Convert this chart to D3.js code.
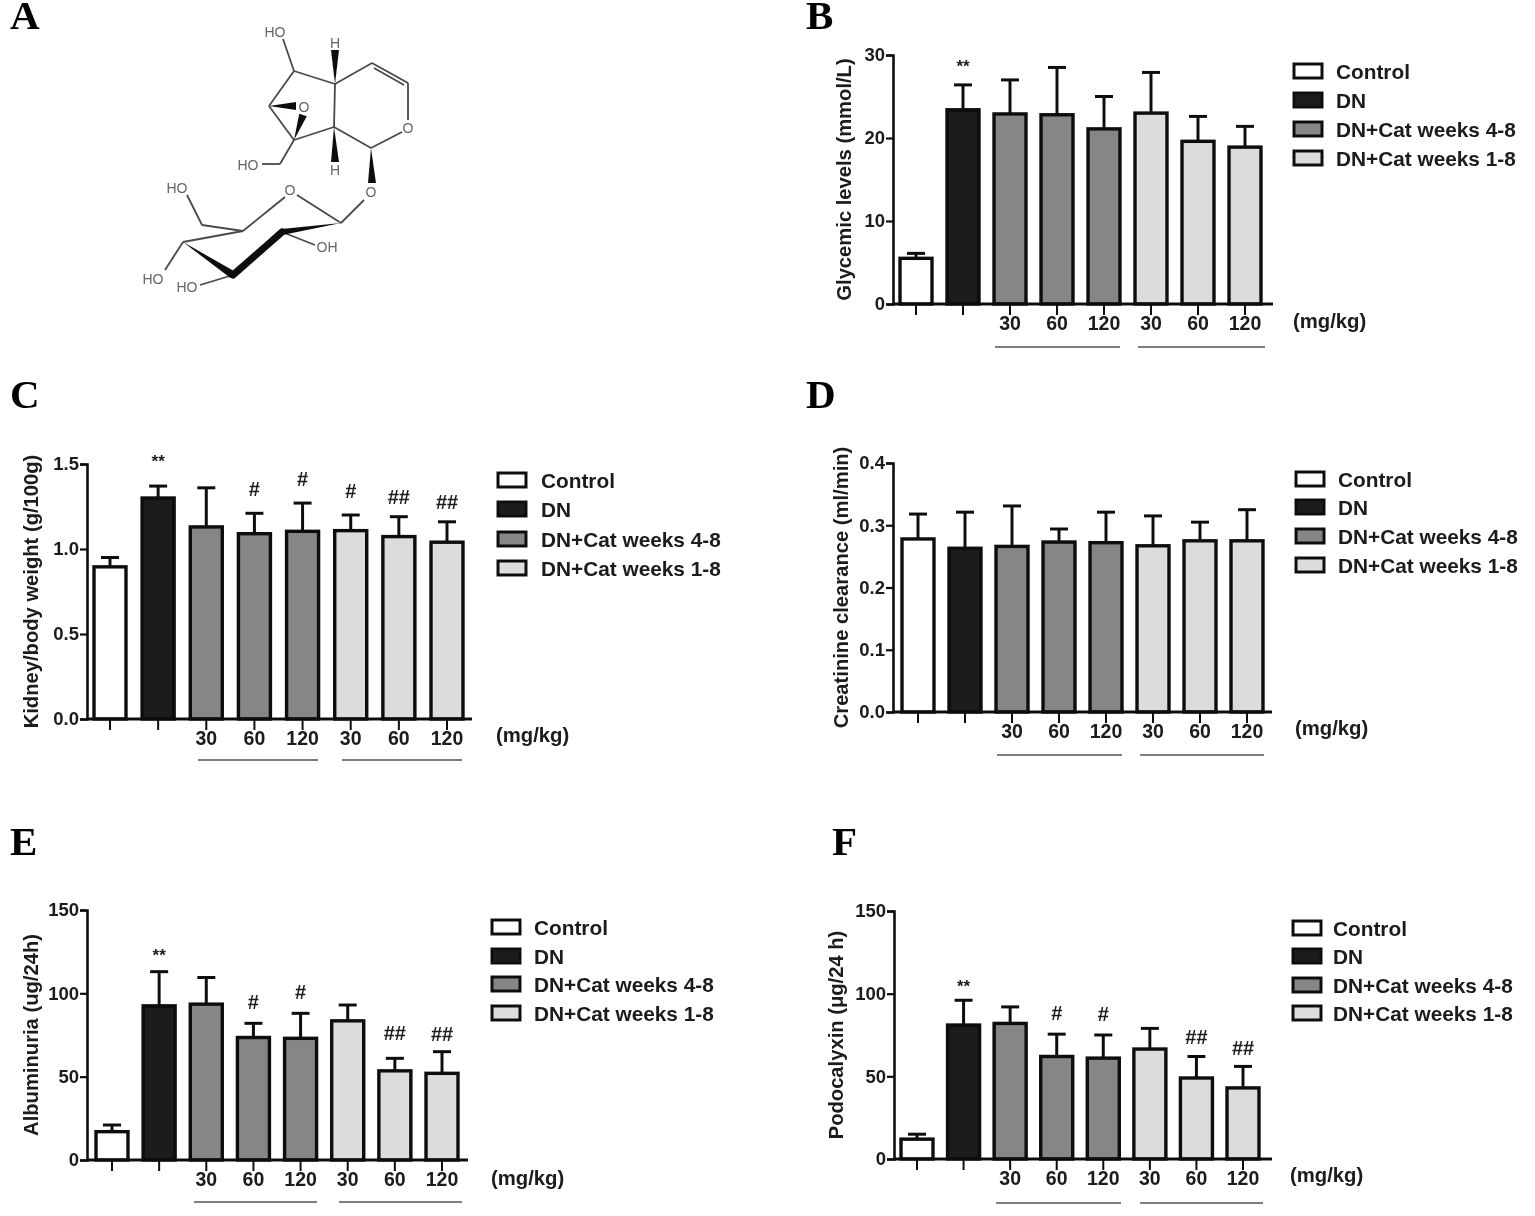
<!DOCTYPE html>
<html>
<head>
<meta charset="utf-8">
<script src="https://cdn.jsdelivr.net/npm/d3@7"></script>
<style>
html, body { margin: 0; padding: 0; background: #fff; }
svg { display: block; }
text { font-family: "Liberation Sans", Arial, sans-serif; fill: #1a1a1a; }
.lab { font-weight: bold; }
</style>
</head>
<body>
<script>
var width = 1535;
var height = 1216;

// bar groups, same order in every panel
var groups = ["Control", "DN", "DN+Cat weeks 4-8", "DN+Cat weeks 1-8"];
var groupFill = ["#ffffff", "#1a1a1a", "#858685", "#dcdcdc"];
var barGroup = [0, 1, 2, 2, 2, 3, 3, 3];
var doses = ["", "", "30", "60", "120", "30", "60", "120"];

// values: mean and top of error bar
var glycemic = [5.5, 23.4, 22.9, 22.8, 21.1, 23, 19.6, 18.9];
var glycemicTop = [6.1, 26.4, 27, 28.5, 25, 27.9, 22.6, 21.4];
var glycemicMarks = ["", "**", "", "", "", "", "", ""];

var kidney = [0.895, 1.3, 1.13, 1.09, 1.104, 1.108, 1.073, 1.04];
var kidneyTop = [0.95, 1.37, 1.36, 1.21, 1.27, 1.2, 1.19, 1.16];
var kidneyMarks = ["", "**", "", "#", "#", "#", "##", "##"];

var creatinine = [0.278, 0.263, 0.266, 0.273, 0.272, 0.267, 0.275, 0.275];
var creatinineTop = [0.318, 0.321, 0.331, 0.294, 0.321, 0.315, 0.305, 0.325];
var creatinineMarks = ["", "", "", "", "", "", "", ""];

var albumin = [17, 92.5, 93.5, 73.5, 73, 83.5, 53.5, 52];
var albuminTop = [21, 113, 109.5, 82, 88, 93, 61, 65];
var albuminMarks = ["", "**", "", "#", "#", "", "##", "##"];

var podocalyxin = [12, 81, 82, 62, 61, 66.5, 49, 43];
var podocalyxinTop = [15, 96, 92, 75.5, 75, 79, 62, 56];
var podocalyxinMarks = ["", "**", "", "#", "#", "", "##", "##"];

var panels = [
	{ letter: "B", lx: 806, ly: 29, title: "Glycemic levels (mmol/L)", values: glycemic, tops: glycemicTop, marks: glycemicMarks,
	  ticks: [0, 10, 20, 30], max: 30, fmt: d3.format("d"), gaps: [0, 13, 0, 0, 0, 0, 0, 0],
	  ax: 893, y0: 304, y1: 55, c0: 916, c7: 1245, axEnd: 1273, titleX: 844, labY: 323, lineY: 347,
	  l1: [995, 1120], l2: [1138, 1265], unitX: 1293, unitY: 321, legX: 1293, legText: 1336, legY: [71, 100, 129, 158] },
	{ letter: "C", lx: 10, ly: 408, title: "Kidney/body weight (g/100g)", values: kidney, tops: kidneyTop, marks: kidneyMarks,
	  ticks: [0, 0.5, 1, 1.5], max: 1.5, fmt: d3.format(".1f"), gaps: [0, 19, 0, 17, 17, 17, 13, 13],
	  ax: 87, y0: 719, y1: 464, c0: 110, c7: 447, axEnd: 472, titleX: 31, labY: 738, lineY: 760,
	  l1: [198, 318], l2: [342, 462], unitX: 496, unitY: 735, legX: 497, legText: 541, legY: [480, 509, 539, 568] },
	{ letter: "D", lx: 806, ly: 408, title: "Creatinine clearance (ml/min)", values: creatinine, tops: creatinineTop, marks: creatinineMarks,
	  ticks: [0, 0.1, 0.2, 0.3, 0.4], max: 0.4, fmt: d3.format(".1f"), gaps: [0, 0, 0, 0, 0, 0, 0, 0],
	  ax: 893, y0: 712, y1: 463, c0: 918, c7: 1247, axEnd: 1272, titleX: 841, labY: 731, lineY: 755,
	  l1: [997, 1122], l2: [1140, 1264], unitX: 1295, unitY: 728, legX: 1295, legText: 1338, legY: [479, 507, 536, 565] },
	{ letter: "E", lx: 10, ly: 855, title: "Albuminuria (ug/24h)", values: albumin, tops: albuminTop, marks: albuminMarks,
	  ticks: [0, 50, 100, 150], max: 150, fmt: d3.format("d"), gaps: [0, 11, 0, 14, 14, 0, 18, 11],
	  ax: 87, y0: 1160, y1: 910, c0: 112, c7: 442, axEnd: 468, titleX: 31, labY: 1179, lineY: 1202,
	  l1: [194, 317], l2: [339, 462], unitX: 491, unitY: 1178, legX: 491, legText: 534, legY: [927, 956, 984, 1013] },
	{ letter: "F", lx: 832, ly: 855, title: "Podocalyxin (\u03bcg/24 h)", values: podocalyxin, tops: podocalyxinTop, marks: podocalyxinMarks,
	  ticks: [0, 50, 100, 150], max: 150, fmt: d3.format("d"), gaps: [0, 8, 0, 14, 14, 0, 12, 11],
	  ax: 894, y0: 1159, y1: 911, c0: 917, c7: 1243, axEnd: 1272, titleX: 836, labY: 1178, lineY: 1203,
	  l1: [996, 1121], l2: [1140, 1263], unitX: 1290, unitY: 1175, legX: 1292, legText: 1333, legY: [928, 956, 985, 1013] }
];

// molecule in panel A, [x1, y1, x2, y2]
var bonds = [
	[283, 39, 294, 71], [294, 71, 335, 84], [294, 71, 269, 106], [269, 106, 294, 140], [294, 140, 334, 127],
	[335, 84, 334, 127], [335, 84, 372, 63], [372, 63, 408, 83], [374, 68, 404, 85], [408, 83, 408, 120],
	[402, 132, 371, 148], [371, 148, 334, 127], [294, 140, 280, 164], [280, 164, 262, 164],
	[364, 200, 341, 223], [341, 223, 297, 195], [285, 197, 243, 231], [243, 231, 202, 225], [202, 225, 187, 195],
	[243, 231, 183, 242], [183, 242, 165, 270], [233, 275, 200, 285], [282, 232, 315, 245]
];
// filled wedges, narrow end then wide end and half width
var wedges = [
	[335, 84, 335, 50, 4], [334, 127, 335, 162, 4], [269, 106, 296, 106, 4], [294, 140, 303, 115, 4],
	[371, 148, 372, 183, 4], [183, 242, 233, 275, 4], [341, 223, 282, 232, 3]
];
var atoms = [
	["HO", 275, 32], ["H", 335, 43], ["O", 304, 107], ["O", 408, 128], ["H", 335, 170], ["HO", 248, 165],
	["O", 371, 192], ["O", 290, 190], ["HO", 177, 188], ["OH", 327, 247], ["HO", 153, 279], ["HO", 187, 287]
];

var svg = d3.select("body").append("svg")
	.attr("width", width)
	.attr("height", height);

var defs = svg.append("defs");
defs.append("filter").attr("id", "soft")
	.append("feGaussianBlur").attr("stdDeviation", 0.55);

var root = svg.append("g").attr("filter", "url(#soft)");

function letter(g, s, x, y) {
	g.append("text")
		.attr("x", x).attr("y", y)
		.style("font-family", "'Liberation Serif', serif")
		.style("font-weight", "bold")
		.style("font-size", "41px")
		.style("fill", "#000")
		.text(s);
}

function drawMolecule(g) {
	letter(g, "A", 10, 29);
	g.selectAll(".bond").data(bonds).enter().append("line")
		.attr("class", "bond")
		.attr("x1", function(d) { return d[0]; })
		.attr("y1", function(d) { return d[1]; })
		.attr("x2", function(d) { return d[2]; })
		.attr("y2", function(d) { return d[3]; })
		.attr("stroke", "#4a4a4a")
		.attr("stroke-width", 1.8);
	g.selectAll(".wedge").data(wedges).enter().append("path")
		.attr("class", "wedge")
		.attr("fill", "#111")
		.attr("d", function(d) {
			var dx = d[2] - d[0], dy = d[3] - d[1], n = Math.sqrt(dx * dx + dy * dy);
			var px = -dy / n * d[4], py = dx / n * d[4];
			return "M" + d[0] + "," + d[1] + "L" + (d[2] + px) + "," + (d[3] + py) + "L" + (d[2] - px) + "," + (d[3] - py) + "Z";
		});
	// thick front edge of the sugar ring
	g.append("path")
		.attr("d", d3.line()([[233, 275], [282, 232]]))
		.attr("stroke", "#111").attr("stroke-width", 7).attr("stroke-linecap", "round");
	g.selectAll(".atom").data(atoms).enter().append("text")
		.attr("class", "atom")
		.attr("x", function(d) { return d[1]; })
		.attr("y", function(d) { return d[2]; })
		.attr("text-anchor", "middle")
		.attr("dy", "0.36em")
		.style("font-size", "14px")
		.style("fill", "#666")
		.text(function(d) { return d[0]; });
}

function drawPanel(p) {
	var g = root.append("g");
	letter(g, p.letter, p.lx, p.ly);

	var y = d3.scaleLinear().domain([0, p.max]).range([p.y0, p.y1]);
	var x = d3.scalePoint().domain(d3.range(8)).range([p.c0, p.c7]);
	var barW = 32;

	// error bars go under the bars
	var err = g.append("g").selectAll("g").data(p.values).enter().append("g");
	err.append("line")
		.attr("x1", function(d, i) { return x(i); })
		.attr("x2", function(d, i) { return x(i); })
		.attr("y1", function(d) { return y(d); })
		.attr("y2", function(d, i) { return y(p.tops[i]); })
		.attr("stroke", "#111").attr("stroke-width", 3);
	err.append("line")
		.attr("x1", function(d, i) { return x(i) - 9; })
		.attr("x2", function(d, i) { return x(i) + 9; })
		.attr("y1", function(d, i) { return y(p.tops[i]); })
		.attr("y2", function(d, i) { return y(p.tops[i]); })
		.attr("stroke", "#111").attr("stroke-width", 3);

	g.append("g").selectAll("rect").data(p.values).enter().append("rect")
		.attr("x", function(d, i) { return x(i) - barW / 2; })
		.attr("width", barW)
		.attr("y", function(d) { return y(d); })
		.attr("height", function(d) { return p.y0 - y(d); })
		.attr("fill", function(d, i) { return groupFill[barGroup[i]]; })
		.attr("stroke", "#0a0a0a")
		.attr("stroke-width", 3.4);

	// axes
	var yAxis = d3.axisLeft(y).tickValues(p.ticks).tickFormat(p.fmt).tickSize(7).tickPadding(1);
	var ay = g.append("g").attr("transform", "translate(" + p.ax + ",0)").call(yAxis);
	ay.select(".domain").attr("stroke", "#111").attr("stroke-width", 2.6);
	ay.selectAll(".tick line").attr("stroke", "#111").attr("stroke-width", 2.2);
	ay.selectAll("text").style("font-size", "18.5px").style("font-family", "'Liberation Sans'")
		.style("font-weight", "bold").attr("fill", "#1a1a1a");

	g.append("line")
		.attr("x1", p.ax).attr("x2", p.axEnd)
		.attr("y1", p.y0).attr("y2", p.y0)
		.attr("stroke", "#111").attr("stroke-width", 2.8);
	g.append("g").selectAll("line").data(d3.range(8)).enter().append("line")
		.attr("x1", function(d) { return x(d); })
		.attr("x2", function(d) { return x(d); })
		.attr("y1", p.y0).attr("y2", p.y0 + 11)
		.attr("stroke", "#111").attr("stroke-width", 2);

	// dose labels
	g.append("g").selectAll("text").data(doses).enter().append("text")
		.attr("x", function(d, i) { return x(i); })
		.attr("y", p.labY)
		.attr("dy", "0.36em")
		.attr("text-anchor", "middle")
		.attr("class", "lab")
		.style("font-size", "19.5px")
		.text(function(d) { return d; });

	g.append("text")
		.attr("class", "lab")
		.attr("x", p.unitX).attr("y", p.unitY).attr("dy", "0.36em")
		.style("font-size", "20.3px")
		.text("(mg/kg)");

	// lines under the doses
	[p.l1, p.l2].forEach(function(l) {
		g.append("line")
			.attr("x1", l[0]).attr("x2", l[1])
			.attr("y1", p.lineY).attr("y2", p.lineY)
			.attr("stroke", "#555").attr("stroke-width", 1.6);
	});

	// significance marks
	g.append("g").selectAll("text").data(p.marks).enter().append("text")
		.attr("x", function(d, i) { return x(i); })
		.attr("y", function(d, i) { return y(p.tops[i]) - p.gaps[i]; })
		.attr("text-anchor", "middle")
		.attr("class", "lab")
		.style("font-size", function(d) { return d == "**" ? "17px" : "20px"; })
		.text(function(d) { return d; });

	// y title
	g.append("text")
		.attr("class", "lab")
		.attr("transform", "translate(" + p.titleX + "," + ((p.y0 + p.y1) / 2) + ") rotate(-90)")
		.attr("dy", "0.36em")
		.attr("text-anchor", "middle")
		.style("font-size", "20.2px")
		.text(p.title);

	// legend
	var leg = g.append("g").selectAll("g").data(groups).enter().append("g")
		.attr("transform", function(d, i) { return "translate(0," + p.legY[i] + ")"; });
	leg.append("rect")
		.attr("x", p.legX + 1).attr("y", -7)
		.attr("width", 28).attr("height", 14)
		.attr("fill", function(d, i) { return groupFill[i]; })
		.attr("stroke", "#111").attr("stroke-width", 3);
	leg.append("text")
		.attr("class", "lab")
		.attr("x", p.legText).attr("dy", "0.36em")
		.style("font-size", "20.8px")
		.text(function(d) { return d; });
}

drawMolecule(root.append("g"));
panels.forEach(drawPanel);
</script>
</body>
</html>
